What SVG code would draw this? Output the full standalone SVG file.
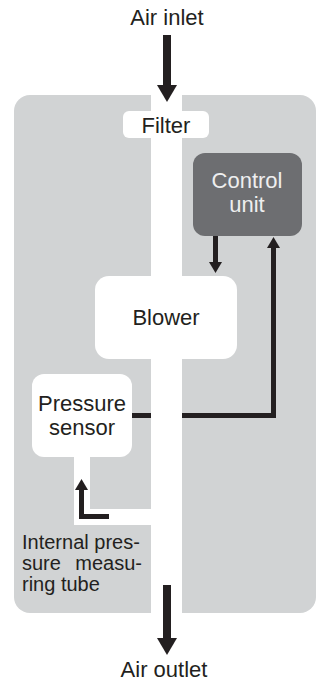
<svg xmlns="http://www.w3.org/2000/svg" width="320" height="683" viewBox="0 0 320 683">
<style>
.t{font-family:"Liberation Sans",Arial,sans-serif;font-size:22px;fill:#231f20;text-anchor:middle}
.s{font-family:"Liberation Sans",Arial,sans-serif;font-size:20px;fill:#231f20}
.w{fill:#ffffff}
.big{fill:none;stroke:#231f20;stroke-width:8}
.sm{fill:none;stroke:#231f20;stroke-width:5}
</style>
<defs>
<marker id="hb" markerUnits="userSpaceOnUse" viewBox="0 0 17 20" markerWidth="17" markerHeight="20" refX="0" refY="10" orient="auto">
<path d="M0,0 L17,10 L0,20 Z" fill="#231f20"/>
</marker>
<marker id="hs" markerUnits="userSpaceOnUse" viewBox="0 0 11 13" markerWidth="11" markerHeight="13" refX="0" refY="6.5" orient="auto">
<path d="M0,0 L11,6.5 L0,13 Z" fill="#231f20"/>
</marker>
</defs>
<g id="housing">
<rect x="14" y="95" width="302" height="518" rx="16" fill="#d1d3d4"/>
</g>
<g id="connectors-behind">
<path class="sm" d="M132,415.5 H273.5 V248" marker-end="url(#hs)"/>
</g>
<g id="air-channel">
<rect class="w" x="151" y="95" width="31" height="518"/>
</g>
<g id="tube">
<path class="w" d="M74,457 H90 V509 H151 V525 H74 Z"/>
</g>
<g id="filter">
<rect class="w" x="123" y="111" width="86" height="27" rx="6"/>
<text class="t" x="166" y="133">Filter</text>
</g>
<g id="control-unit">
<rect x="193" y="153" width="109" height="83" rx="12" fill="#6d6e71"/>
<text class="t" x="247" y="188" style="fill:#eeeeef">Control</text>
<text class="t" x="247" y="212" style="fill:#eeeeef">unit</text>
</g>
<g id="blower">
<rect class="w" x="95" y="276" width="142" height="83" rx="14"/>
<text class="t" x="166" y="325">Blower</text>
</g>
<g id="pressure-sensor">
<rect class="w" x="32" y="374" width="100" height="83" rx="12"/>
<text class="t" x="82" y="411">Pressure</text>
<text class="t" x="82" y="435">sensor</text>
</g>
<g id="labels">
<text class="t" x="167" y="25">Air inlet</text>
<text class="t" x="164" y="677">Air outlet</text>
<text class="s" x="22" y="549">Internal pres-</text>
<text class="s" x="22" y="570">sure</text>
<text class="s" x="142" y="570" text-anchor="end">measu-</text>
<text class="s" x="22" y="591">ring tube</text>
</g>
<g id="connectors">
<path class="big" d="M167,35 V85" marker-end="url(#hb)"/>
<path class="big" d="M167,585 V638" marker-end="url(#hb)"/>
<path class="sm" d="M215.5,236 V262" marker-end="url(#hs)"/>
<path class="sm" d="M109,516.5 H81.5 V490" marker-end="url(#hs)"/>
</g>
</svg>
